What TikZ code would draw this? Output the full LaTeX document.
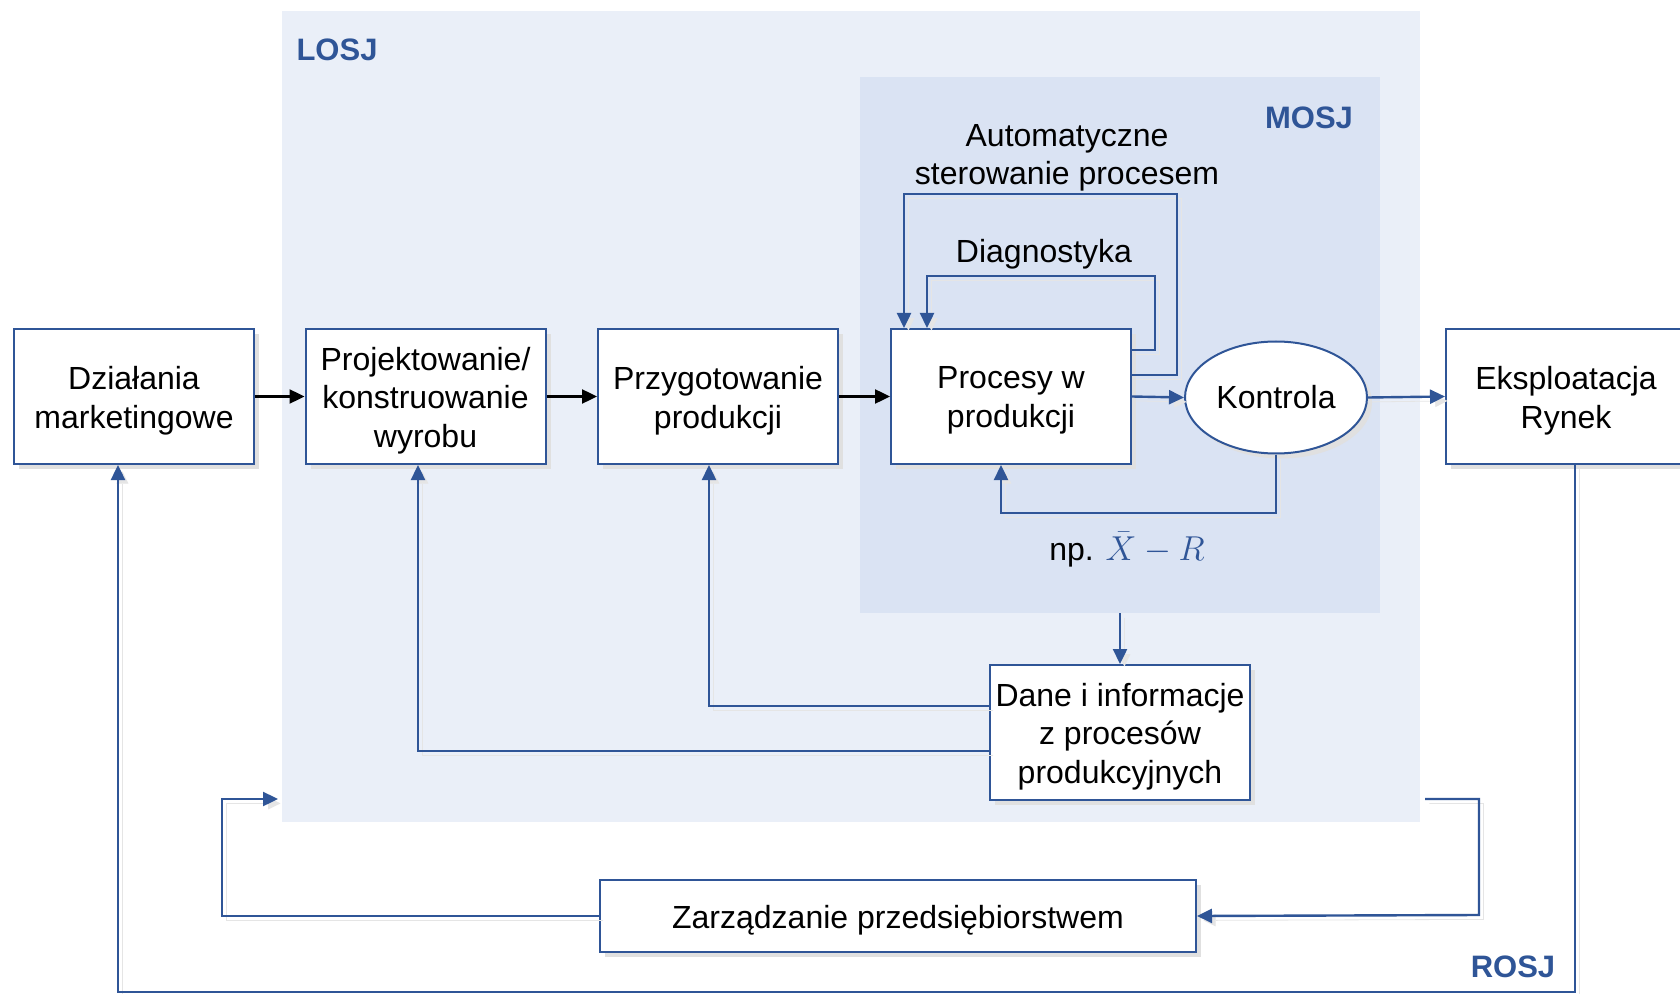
\documentclass[tikz,border=0pt]{standalone}
\usepackage{fontspec}
\setmainfont{Liberation Sans}
\usetikzlibrary{arrows.meta,shadows,calc,shapes.geometric}
\definecolor{bl}{HTML}{2F5597}
\definecolor{losjbg}{HTML}{EAEFF8}
\definecolor{mosjbg}{HTML}{DAE3F3}
\begin{document}
\begin{tikzpicture}[x=0.5pt,y=-0.5pt,
 box/.style={draw=bl, line width=1pt, fill=white, minimum width=120pt, minimum height=67.5pt, align=center, inner sep=2pt, font=\fontsize{16}{19.3}\selectfont, drop shadow={shadow xshift=2.5pt, shadow yshift=-2.5pt, opacity=1, fill=black!12}},
 boxt/.style={box, label={[txt, yshift=-2pt]center:{#1}}},
 tip/.style={-{Triangle[length=7.5pt,width=7pt]}},
 conn/.style={draw=bl, line width=1.2pt, tip, preaction={draw=black!10, transform canvas={shift={(2.2pt,-2.2pt)}}}},
 blk/.style={draw=black, line width=1.2pt, tip},
 lab/.style={font=\fontsize{15.5}{18}\selectfont\bfseries, text=bl},
 txt/.style={font=\fontsize{16}{19.3}\selectfont, align=center}]
\useasboundingbox (0,0) rectangle (1680,994);
\fill[white] (0,0) rectangle (1680,994);
% backgrounds
\node[fill=losjbg, minimum width=569pt, minimum height=405.5pt, inner sep=0] (losj) at (851,416.5) {};
\node[fill=mosjbg, minimum width=260pt, minimum height=268pt, inner sep=0] (mosj) at (1120,345) {};
% labels
\node[lab] (llosj) at (337,50) {LOSJ};
\node[lab] (lmosj) at (1309,118) {MOSJ};
\node[lab] (lrosj) at (1513,967) {ROSJ};
% boxes
\node[boxt={Działania\\marketingowe}] (dzial) at (134,396.5) {};
\node[boxt={Projektowanie/\\konstruowanie\\wyrobu}] (projekt) at (425.5,396.5) {};
\node[boxt={Przygotowanie\\produkcji}] (przyg) at (718,396.5) {};
\node[boxt={Procesy w\\produkcji}] (procesy) at (1011,396.5) {};
\node[box, ellipse, minimum width=91pt, minimum height=56pt, inner sep=0] (kontrola) at (1276,397.5) {Kontrola};
\node[boxt={Eksploatacja\\Rynek}] (eksp) at (1566,396.5) {};
\node[boxt={Dane i informacje\\z procesów\\produkcyjnych}, minimum width=130pt] (dane) at (1120,732.5) {};
\node[boxt={Zarządzanie przedsiębiorstwem}, minimum width=298pt, minimum height=36pt] (zarz) at (898,916) {};
% texts
\node[txt] (tauto) at (1067,158) {Automatyczne\\sterowanie procesem};
\node[txt] (tdiag) at (1044,254) {Diagnostyka};
\node[txt] (tnp) at (1127,550) {np. \textcolor{bl}{$\bar{X}-R$}};
% connectors
\draw[conn] (procesy.east |- 0,350) -| (1155,276) -| (927,0 |- procesy.north);
\draw[conn] (procesy.east |- 0,375) -| (1177,194) -| (904,0 |- procesy.north);
\draw[conn] (kontrola.south) |- (1001,513) -- (1001,0 |- procesy.south);
\draw[conn] (mosj.south -| dane.north) -- (dane.north);
\draw[conn] (dane.west |- 0,706) -| (709,0 |- przyg.south);
\draw[conn] (dane.west |- 0,751) -| (418,0 |- projekt.south);
\coordinate (zl) at (278,799);
\coordinate (zr) at (1425,799);
\draw[conn] (zarz.west) -| (222,799) -- (zl);
\draw[conn] (zr) -| (1479,915) -- (zarz.east);
\draw[conn] (1575,0 |- eksp.south) |- (118,992) -- (118,0 |- dzial.south);
\draw[conn] (procesy.east) -- (kontrola.west);
\draw[conn] (kontrola.east) -- (eksp.west);
\draw[blk] (dzial.east) -- (projekt.west);
\draw[blk] (projekt.east) -- (przyg.west);
\draw[blk] (przyg.east) -- (procesy.west);
\end{tikzpicture}
\end{document}
